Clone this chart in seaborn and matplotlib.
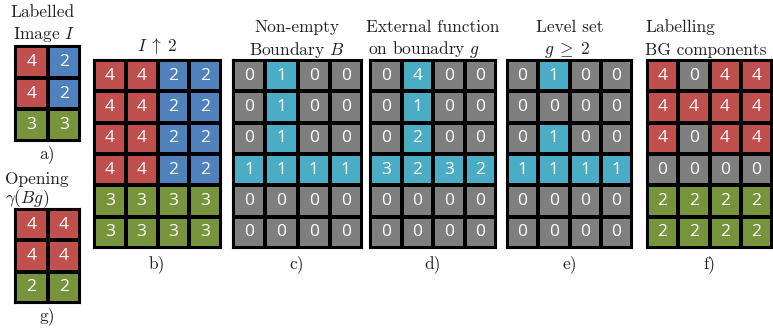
import numpy as np
import matplotlib
matplotlib.use("Agg")
import matplotlib.pyplot as plt
from matplotlib.colors import ListedColormap
import seaborn as sns

sns.set_theme(style="white")
plt.rcParams['mathtext.fontset'] = 'cm'

W, H = 773, 329

# ---- data ----
# colour classes: R=red, B=blue, G=green, K=grey, C=cyan
a_vals = [[4, 2], [4, 2], [3, 3]]
a_cols = [["R", "B"], ["R", "B"], ["G", "G"]]

g_vals = [[4, 4], [4, 4], [2, 2]]
g_cols = [["R", "R"], ["R", "R"], ["G", "G"]]

b_vals = [[4, 4, 2, 2], [4, 4, 2, 2], [4, 4, 2, 2], [4, 4, 2, 2], [3, 3, 3, 3], [3, 3, 3, 3]]
b_cols = [["R", "R", "B", "B"]] * 4 + [["G", "G", "G", "G"]] * 2

c_vals = [[0, 1, 0, 0], [0, 1, 0, 0], [0, 1, 0, 0], [1, 1, 1, 1], [0, 0, 0, 0], [0, 0, 0, 0]]
c_cols = [["K", "C", "K", "K"]] * 3 + [["C", "C", "C", "C"]] + [["K", "K", "K", "K"]] * 2

d_vals = [[0, 4, 0, 0], [0, 1, 0, 0], [0, 2, 0, 0], [3, 2, 3, 2], [0, 0, 0, 0], [0, 0, 0, 0]]
d_cols = c_cols

e_vals = [[0, 1, 0, 0], [0, 0, 0, 0], [0, 1, 0, 0], [1, 1, 1, 1], [0, 0, 0, 0], [0, 0, 0, 0]]
e_cols = [["K", "C", "K", "K"], ["K", "K", "K", "K"], ["K", "C", "K", "K"],
          ["C", "C", "C", "C"], ["K", "K", "K", "K"], ["K", "K", "K", "K"]]

f_vals = [[4, 0, 4, 4], [4, 4, 4, 4], [4, 0, 4, 4], [0, 0, 0, 0], [2, 2, 2, 2], [2, 2, 2, 2]]
f_cols = [["R", "K", "R", "R"], ["R", "R", "R", "R"], ["R", "K", "R", "R"],
          ["K", "K", "K", "K"], ["G", "G", "G", "G"], ["G", "G", "G", "G"]]

palette = {"R": "#C0504D", "B": "#4F81BD", "G": "#77933C", "K": "#7F7F7F", "C": "#4BACC6"}
keys = list(palette.keys())
cmap = ListedColormap([palette[k] for k in keys])

fig = plt.figure(figsize=(W / 100, H / 100), dpi=100)
fig.patch.set_facecolor("white")


def panel(x0, x1, y0, y1, vals, cols):
    ax = fig.add_axes([x0 / W, 1 - y1 / H, (x1 - x0) / W, (y1 - y0) / H])
    codes = np.array([[keys.index(c) for c in row] for row in cols])
    sns.heatmap(codes, ax=ax, cmap=cmap, vmin=-0.5, vmax=len(keys) - 0.5,
                annot=np.array(vals), fmt="d", cbar=False,
                linewidths=1.5, linecolor="black",
                annot_kws={"color": "white", "fontsize": 12.5, "fontfamily": "Open Sans"})
    ax.set_xticks([])
    ax.set_yticks([])
    for s in ax.spines.values():
        s.set_visible(True)
        s.set_color("black")
        s.set_linewidth(1.5)
    return ax


panel(15, 80, 46, 141, a_vals, a_cols)
panel(15, 80, 209, 303, g_vals, g_cols)
panel(94, 221, 60, 248, b_vals, b_cols)
panel(233, 362, 60, 248, c_vals, c_cols)
panel(370, 496, 60, 248, d_vals, d_cols)
panel(507, 632, 60, 248, e_vals, e_cols)
panel(647, 772, 60, 248, f_vals, f_cols)


def txt(x, y, s, ha="center"):
    fig.text(x / W, 1 - y / H, s, ha=ha, va="center", fontsize=12.5,
             family=["cmr10", "DejaVu Serif"], color="#222222")


txt(42, 12, "Labelled")
txt(44, 34, r"Image $I$")
txt(47, 154, "a)")
txt(5, 179, "Opening", ha="left")
txt(5, 199, r"$\gamma(Bg)$", ha="left")
txt(47, 316, "g)")
txt(157, 46, r"$I\;\uparrow\;2$")
txt(157, 264, "b)")
txt(297, 27, "Non-empty")
txt(297, 50, r"Boundary $B$")
txt(297, 264, "c)")
txt(366, 27, "External function", ha="left")
txt(368, 50, r"on bounadry $g$", ha="left")
txt(433, 264, "d)")
txt(570, 27, "Level set")
txt(567, 50, r"$g\;\geq\;2$")
txt(570, 264, "e)")
txt(645, 27, "Labelling", ha="left")
txt(645, 50, "BG components", ha="left")
txt(710, 264, "f)")

fig.savefig("out.png", dpi=100, facecolor="white")
